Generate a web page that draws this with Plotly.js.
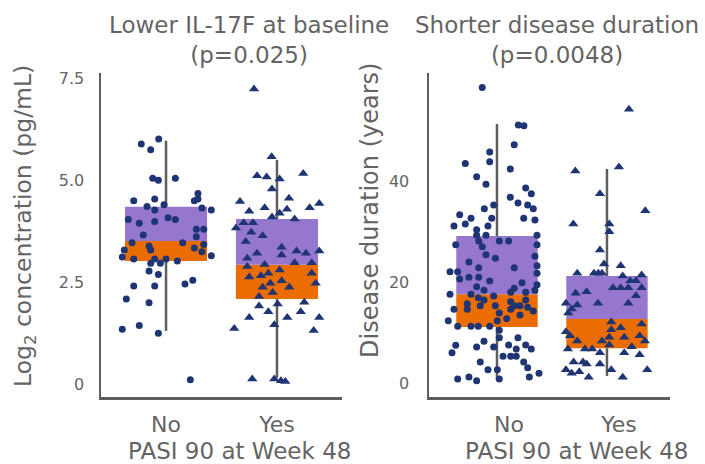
<!DOCTYPE html>
<html>
<head>
<meta charset="utf-8">
<script src="https://cdn.plot.ly/plotly-3.0.1.min.js"></script>
<style>html,body{margin:0;padding:0;background:#fff}#chart{width:705px;height:464px}</style>
</head>
<body>
<div id="chart"></div>
<script>
// ---------- DATA ----------
const categories = ['No', 'Yes'];
const catPos = [0, 1];

// IL-17F (log2 pg/mL) box summaries: [No, Yes]
const il17fQ1 = [3.01, 2.08];
const il17fMedian = [3.50, 2.92];
const il17fQ3 = [4.34, 4.04];
const il17fWhiskerLow = [1.30, 0.15];
const il17fWhiskerHigh = [5.96, 5.49];

// Disease duration (years) box summaries: [No, Yes]
const durQ1 = [11.1, 6.9];
const durMedian = [17.6, 12.7];
const durQ3 = [29.1, 21.2];
const durWhiskerLow = [0.6, 1.4];
const durWhiskerHigh = [51.3, 42.4];

// Individual points (jittered category position, value)
const il17fNoX = [-0.223,-0.066,-0.138,-0.120,-0.069,0.084,0.288,0.255,0.288,-0.291,-0.102,-0.018,-0.171,-0.102,0.324,0.408,-0.340,-0.241,-0.102,0.018,0.084,0.273,0.340,-0.205,0.273,-0.306,0.150,-0.153,-0.138,-0.376,0.255,0.340,0.324,-0.394,-0.291,-0.102,0.000,0.102,-0.138,-0.051,0.408,-0.153,-0.069,-0.291,-0.102,0.171,0.241,-0.358,-0.153,-0.394,-0.241,-0.069,0.219];
const il17fNoY = [5.88,6.00,5.74,5.04,4.99,5.04,4.67,4.49,4.53,4.49,4.53,4.39,4.35,4.26,4.31,4.26,4.03,3.94,3.98,4.07,4.03,3.79,3.79,3.65,3.61,3.46,3.46,3.38,3.28,3.28,3.33,3.42,3.24,3.11,3.06,3.06,3.06,3.01,2.96,2.96,3.14,2.77,2.68,2.40,2.40,2.45,2.54,2.08,1.99,1.34,1.43,1.24,0.10];

const il17fYesX = [0.793,0.952,0.820,0.907,1.024,1.237,0.955,0.667,0.750,0.889,1.108,1.024,1.090,1.295,1.381,0.955,1.159,0.631,0.700,0.784,0.768,0.871,0.718,1.042,0.820,1.042,1.177,1.261,1.381,0.732,0.889,1.159,1.313,0.732,1.024,0.922,0.856,0.750,1.313,1.042,0.940,1.349,0.871,1.111,0.961,0.838,1.246,0.838,1.006,0.922,1.214,0.750,1.093,1.381,0.976,0.615,1.331,0.777,0.976,1.036,1.075];
const il17fYesY = [7.23,5.57,5.10,5.07,5.02,5.16,4.78,4.47,4.23,4.32,4.55,4.18,4.28,4.32,4.42,4.09,4.04,3.82,3.95,3.95,3.72,3.63,3.49,3.35,3.20,3.16,3.26,3.20,3.26,3.08,2.93,2.97,2.97,2.88,2.79,2.71,2.65,2.62,2.71,2.53,2.47,2.47,2.37,2.37,2.24,2.14,2.00,1.91,1.96,1.77,1.77,1.63,1.63,1.63,1.45,1.36,1.31,0.12,0.12,0.08,0.06];

const durNoX = [-0.134,0.194,0.245,0.157,-0.066,-0.066,-0.288,0.121,-0.185,-0.100,0.261,0.312,0.121,0.191,0.279,0.330,-0.030,-0.115,-0.339,-0.236,-0.048,0.243,0.345,-0.288,-0.391,-0.082,-0.185,-0.185,-0.100,0.364,-0.166,0.021,0.106,-0.375,-0.134,0.364,-0.100,-0.015,0.345,-0.255,-0.166,0.157,0.364,-0.427,-0.357,0.364,-0.339,-0.255,-0.166,-0.066,0.227,0.364,-0.185,0.157,-0.118,0.345,0.125,0.261,-0.427,-0.236,-0.030,-0.170,-0.118,0.125,0.261,-0.270,-0.152,-0.015,0.157,0.209,0.125,0.279,-0.391,-0.270,0.330,0.021,0.209,0.088,0.003,-0.443,-0.357,-0.236,-0.170,-0.066,0.021,0.021,0.191,-0.118,-0.375,-0.185,-0.030,0.106,0.261,0.175,0.312,-0.409,0.055,0.125,0.175,-0.152,0.243,0.279,-0.082,0.003,0.382,-0.357,-0.255,-0.185,0.021,0.294];
const durNoY = [58.55,51.09,50.95,47.19,45.74,43.82,43.50,42.38,40.85,39.35,38.61,37.49,36.77,35.64,35.25,34.51,35.25,34.51,33.33,32.61,32.61,32.61,32.28,31.49,31.09,31.09,30.36,29.25,29.25,29.25,28.12,28.12,28.12,27.39,26.99,27.39,25.41,24.69,25.09,23.96,22.83,22.83,23.23,22.04,22.04,21.72,20.59,20.93,20.93,20.20,19.86,19.47,19.07,18.75,18.36,18.36,17.96,17.96,17.56,17.56,17.23,16.89,16.44,16.10,16.44,15.70,15.31,15.31,15.31,15.31,14.59,14.99,14.59,14.59,14.26,13.86,13.47,12.73,12.34,12.34,11.23,11.23,11.23,11.23,10.44,8.97,8.97,8.26,7.47,7.13,7.13,7.52,7.52,6.73,6.73,6.00,5.29,5.29,5.29,4.16,4.16,3.03,2.63,2.63,1.92,0.79,1.19,0.46,0.79,1.19];

const durYesX = [1.200,0.712,1.109,0.936,1.348,0.694,1.021,1.021,0.936,0.973,1.125,0.730,0.882,0.921,0.955,1.143,1.315,1.212,1.264,1.055,1.125,1.194,1.315,0.715,0.815,1.264,0.627,0.730,0.918,1.194,0.679,0.648,1.039,1.315,0.627,1.039,1.125,0.664,0.730,1.021,1.157,1.297,0.955,1.345,1.021,1.225,0.645,0.800,0.866,0.936,1.157,1.297,0.697,0.782,0.815,0.936,0.627,0.748,0.679,1.039,1.366,0.834,1.143];
const durYesY = [54.2,41.98,42.77,37.49,34.12,31.49,31.49,29.96,26.34,23.56,23.23,21.72,21.72,21.72,21.72,21.19,21.39,20.26,20.26,18.87,18.87,18.87,18.87,17.76,18.08,17.29,15.78,15.45,15.78,15.78,14.65,13.86,12.08,11.68,10.16,10.55,10.95,9.37,8.32,9.05,9.05,9.37,8.32,8.32,7.52,7.19,6.73,6.73,6.73,6.00,6.00,5.60,4.16,4.16,3.76,3.76,2.63,2.24,1.92,2.63,2.63,1.13,1.13];

const il17fTickVals = [0, 2.5, 5, 7.5];
const il17fTickText = ['0', '2.5', '5.0', '7.5'];
const durTickVals = [0, 20, 40];
const durTickText = ['0', '20', '40'];

// ---------- STYLE ----------
const FONT = '"DejaVu Sans", Verdana, sans-serif';
const TXT = '#646464';
const AXC = '#5e5e5e';
const PURPLE = '#9677cf';
const ORANGE = '#eb6c00';
const DOT = '#1f3573';
const BOXW = 0.74;

function boxTraces(q1, med, q3, lo, hi, xa, ya) {
  const lower = med.map((m, i) => m - q1[i]);
  const upper = q3.map((q, i) => q - med[i]);
  const wx = [], wy = [];
  catPos.forEach((c, i) => {
    wx.push(c, c, null, c, c, null);
    wy.push(hi[i], q3[i], null, q1[i], lo[i], null);
  });
  return [
    {type: 'bar', x: catPos, y: lower, base: q1, width: BOXW, marker: {color: ORANGE, line: {width: 0}},
     xaxis: xa, yaxis: ya, hoverinfo: 'skip', showlegend: false},
    {type: 'bar', x: catPos, y: upper, base: med, width: BOXW, marker: {color: PURPLE, line: {width: 0}},
     xaxis: xa, yaxis: ya, hoverinfo: 'skip', showlegend: false},
    {type: 'scatter', mode: 'lines', x: wx, y: wy, line: {color: AXC, width: 2.5},
     xaxis: xa, yaxis: ya, hoverinfo: 'skip', showlegend: false}
  ];
}
function pts(x, y, symbol, size, xa, ya) {
  return {type: 'scatter', mode: 'markers', x: x, y: y, xaxis: xa, yaxis: ya,
    marker: {symbol: symbol, size: size, color: DOT, line: {width: 0}}, hoverinfo: 'skip', showlegend: false};
}

const data = [].concat(
  boxTraces(il17fQ1, il17fMedian, il17fQ3, il17fWhiskerLow, il17fWhiskerHigh, 'x', 'y'),
  boxTraces(durQ1, durMedian, durQ3, durWhiskerLow, durWhiskerHigh, 'x2', 'y2'),
  [pts(il17fNoX, il17fNoY, 'circle', 7, 'x', 'y'),
   pts(il17fYesX, il17fYesY, 'triangle-up', 9, 'x', 'y'),
   pts(durNoX, durNoY, 'circle', 7, 'x2', 'y2'),
   pts(durYesX, durYesY, 'triangle-up', 9, 'x2', 'y2')]
);

const yDom = [67/464, 391/464];
const axBase = {showline: true, linecolor: AXC, linewidth: 2.5, showgrid: false, zeroline: false,
  ticks: '', fixedrange: true};

const layout = {
  width: 705, height: 464,
  margin: {l: 0, r: 0, t: 0, b: 0},
  paper_bgcolor: '#fff', plot_bgcolor: '#fff',
  font: {family: FONT, color: TXT},
  barmode: 'overlay',
  showlegend: false,
  xaxis: Object.assign({}, axBase, {domain: [101/705, 342/705], range: [-0.586, 1.586], anchor: 'y',
    tickvals: catPos, ticktext: categories, tickfont: {size: 22, color: TXT}, ticklabelstandoff: 6}),
  yaxis: Object.assign({}, axBase, {domain: yDom, range: [-0.32, 7.62], anchor: 'x',
    tickvals: il17fTickVals, ticktext: il17fTickText, tickfont: {size: 16, color: TXT}, ticklabelstandoff: 11}),
  xaxis2: Object.assign({}, axBase, {domain: [429/705, 670/705], range: [-0.618, 1.573], anchor: 'y2',
    tickvals: catPos, ticktext: categories, tickfont: {size: 22, color: TXT}, ticklabelstandoff: 6, ticklabelshift: 12}),
  yaxis2: Object.assign({}, axBase, {domain: yDom, range: [-2.77, 61.4], anchor: 'x2',
    tickvals: durTickVals, ticktext: durTickText, tickfont: {size: 16, color: TXT}, ticklabelstandoff: 14}),
  annotations: [
    {text: 'Lower IL-17F at baseline<br>(p=0.025)', xref: 'paper', yref: 'paper', x: 249/705, y: 1 - 40/464,
     xanchor: 'center', yanchor: 'middle', showarrow: false, font: {size: 23, color: TXT}},
    {text: 'Shorter disease duration<br>(p=0.0048)', xref: 'paper', yref: 'paper', x: 557/705, y: 1 - 40/464,
     xanchor: 'center', yanchor: 'middle', showarrow: false, font: {size: 23, color: TXT}},
    {text: 'Log<sub>2</sub> concentration (pg/mL)', xref: 'paper', yref: 'paper', x: 25/705, y: 1 - 226/464,
     xanchor: 'center', yanchor: 'middle', textangle: -90, showarrow: false, font: {size: 23.5, color: TXT}},
    {text: 'Disease duration (years)', xref: 'paper', yref: 'paper', x: 370/705, y: 1 - 211/464,
     xanchor: 'center', yanchor: 'middle', textangle: -90, showarrow: false, font: {size: 24, color: TXT}},
    {text: 'PASI 90 at Week 48', xref: 'paper', yref: 'paper', x: 239/705, y: 1 - 451/464,
     xanchor: 'center', yanchor: 'middle', showarrow: false, font: {size: 23, color: TXT}},
    {text: 'PASI 90 at Week 48', xref: 'paper', yref: 'paper', x: 576/705, y: 1 - 451/464,
     xanchor: 'center', yanchor: 'middle', showarrow: false, font: {size: 23, color: TXT}}
  ]
};

Plotly.newPlot('chart', data, layout, {displayModeBar: false, staticPlot: true});
</script>
</body>
</html>
